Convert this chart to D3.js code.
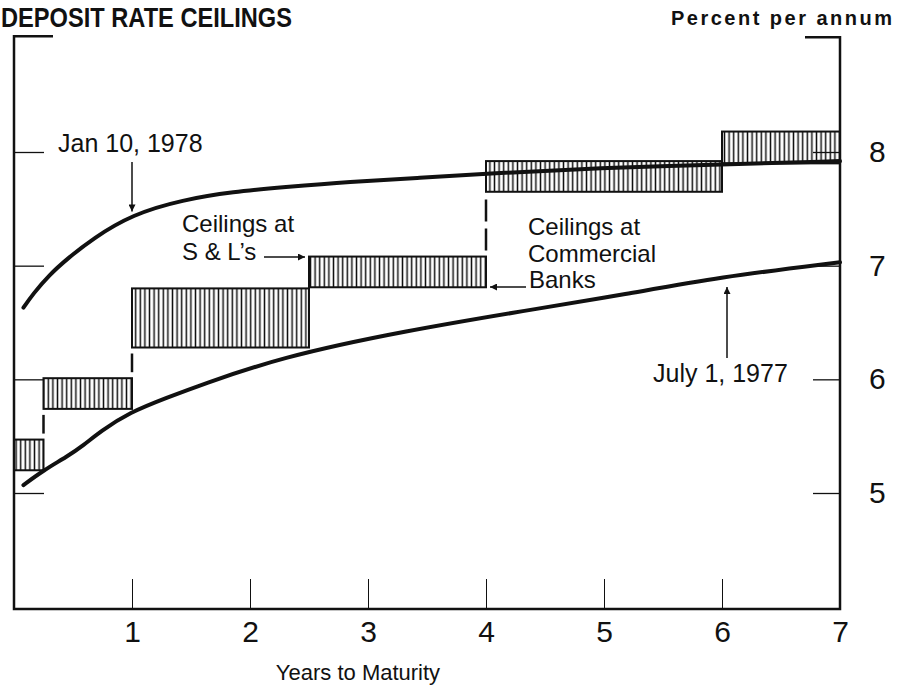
<!DOCTYPE html>
<html>
<head>
<meta charset="utf-8">
<script src="https://cdn.jsdelivr.net/npm/d3@7"></script>
<style>
  html, body { margin: 0; padding: 0; background: #fff; }
  svg { display: block; font-family: "Liberation Sans", Arial, Helvetica, sans-serif; }
  .tick text { font-family: "Liberation Sans", Arial, sans-serif; }
  .note { font-size: 25px; fill: #111; }
  .note.small { font-size: 24px; }
</style>
</head>
<body>
<svg id="chart" width="897" height="687"></svg>
<script>
/* ── Data ───────────────────────────────────────────────────────────────── */
// ceiling bands: bottom = commercial banks, top = S & L's
const bandStart = [0, 0.25, 1, 2.5, 4, 6];
const bandEnd   = [0.25, 1, 2.5, 4, 6, 7];
const bankRate  = [5.2, 5.74, 6.28, 6.81, 7.65, 7.9];
const slRate    = [5.47, 6.01, 6.8, 7.08, 7.92, 8.18];

// market yield curves
const jan78Years = [0.08, 0.16, 0.3, 0.45, 0.67, 1, 1.43, 1.86, 2.28, 2.85, 3.42, 3.97, 4.97, 6, 7];
const jan78Rates = [6.63, 6.75, 6.92, 7.06, 7.24, 7.45, 7.58, 7.65, 7.69, 7.74, 7.77, 7.81, 7.86, 7.89, 7.92];
const jul77Years = [0.08, 0.25, 0.45, 0.59, 0.73, 0.98, 1.3, 1.58, 2.25, 3.27, 4.54, 5.14, 5.98, 7];
const jul77Rates = [5.07, 5.2, 5.32, 5.42, 5.54, 5.71, 5.84, 5.95, 6.19, 6.42, 6.64, 6.74, 6.9, 7.03];

const xTicks = [1, 2, 3, 4, 5, 6, 7];
const yTicks = [5, 6, 7, 8];

/* ── Scales ─────────────────────────────────────────────────────────────── */
const x = d3.scaleLinear().domain([0, 7]).range([14, 840]);
const y = d3.scaleLinear().domain([5, 8]).range([493, 152]);
const BOTTOM = 609, TOP = y(9);

const svg = d3.select('#chart');

const defs = svg.append('defs');
const pat = defs.append('pattern').attr('id', 'hatch')
  .attr('patternUnits', 'userSpaceOnUse').attr('width', 4.6).attr('height', 10);
pat.append('rect').attr('width', 4.6).attr('height', 10).attr('fill', '#fff');
pat.append('line').attr('x1', 2.3).attr('x2', 2.3).attr('y1', 0).attr('y2', 10)
  .attr('stroke', '#111').attr('stroke-width', 1.5);

defs.append('marker').attr('id', 'arrow')
  .attr('viewBox', '0 0 10 10').attr('refX', 10).attr('refY', 5)
  .attr('markerWidth', 11).attr('markerHeight', 7).attr('markerUnits', 'userSpaceOnUse')
  .attr('orient', 'auto')
  .append('path').attr('d', 'M0,0 L10,5 L0,10 Z').attr('fill', '#111');

/* ── Title ──────────────────────────────────────────────────────────────── */
svg.append('text').attr('x', 1).attr('y', 27)
  .attr('font-size', 28).attr('font-weight', 'bold').attr('fill', '#111')
  .attr('textLength', 291).attr('lengthAdjust', 'spacingAndGlyphs')
  .text('DEPOSIT RATE CEILINGS');
svg.append('text').attr('x', 671).attr('y', 25)
  .attr('font-size', 20).attr('font-weight', 'bold').attr('fill', '#111')
  .attr('textLength', 221).attr('lengthAdjust', 'spacing')
  .text('Percent per annum');

/* ── Ceiling bands ──────────────────────────────────────────────────────── */
const bands = bandStart.map((s, i) => ({ s, e: bandEnd[i], lo: bankRate[i], hi: slRate[i] }));

svg.append('g').selectAll('rect').data(bands).join('rect')
  .attr('x', d => x(d.s)).attr('width', d => x(d.e) - x(d.s))
  .attr('y', d => y(d.hi)).attr('height', d => y(d.lo) - y(d.hi))
  .attr('fill', 'url(#hatch)').attr('stroke', '#111').attr('stroke-width', 2);

// dashed connectors between steps
const steps = bands.slice(1).map((b, i) => ({ at: b.s, from: bands[i].hi, to: b.lo }))
  .filter(d => d.to > d.from + 0.05);
svg.append('g').selectAll('line').data(steps).join('line')
  .attr('x1', d => x(d.at)).attr('x2', d => x(d.at))
  .attr('y1', d => y(d.from) - 6).attr('y2', d => y(d.to) + 6)
  .attr('stroke', '#111').attr('stroke-width', 2.5).attr('stroke-dasharray', '22,7');

/* ── Yield curves ───────────────────────────────────────────────────────── */
const line = d3.line().x(d => x(d[0])).y(d => y(d[1])).curve(d3.curveBasis);
[[jan78Years, jan78Rates], [jul77Years, jul77Rates]].forEach(([ys, rs]) => {
  svg.append('path').attr('d', line(ys.map((v, i) => [v, rs[i]])))
    .attr('fill', 'none').attr('stroke', '#111').attr('stroke-width', 4)
    .attr('stroke-linecap', 'round');
});

/* ── Axes / frame ───────────────────────────────────────────────────────── */
const xAxis = svg.append('g').attr('transform', `translate(0,${BOTTOM})`)
  .call(d3.axisBottom(x).tickValues(xTicks).tickFormat(d3.format('d'))
    .tickSizeInner(-30).tickSizeOuter(0).tickPadding(12));
xAxis.select('.domain').remove();
xAxis.selectAll('.tick line').attr('stroke', '#111').attr('stroke-width', 1)
  .filter(d => d === 7).remove();
xAxis.selectAll('.tick text').attr('font-size', 30).attr('fill', '#111');

const yLeft = svg.append('g').attr('transform', `translate(${x(0)},0)`)
  .call(d3.axisLeft(y).tickValues(yTicks).tickSizeInner(-30).tickSizeOuter(0).tickFormat(''));
yLeft.select('.domain').remove();
yLeft.selectAll('.tick line').attr('stroke', '#111').attr('stroke-width', 1.3);

const yRight = svg.append('g').attr('transform', `translate(${x(7)},0)`)
  .call(d3.axisRight(y).tickValues(yTicks).tickFormat(d3.format('d'))
    .tickSizeInner(-27).tickSizeOuter(0).tickPadding(29));
yRight.select('.domain').remove();
yRight.selectAll('.tick line').attr('stroke', '#111').attr('stroke-width', 1.3);
yRight.selectAll('.tick text').attr('font-size', 30).attr('fill', '#111');

const frame = svg.append('g').attr('stroke', '#111').attr('fill', 'none').attr('stroke-width', 2.5);
frame.append('path').attr('d', `M${x(0) + 39},${TOP - 2} H${x(0)} V${BOTTOM} H${x(7)} V${TOP - 1} H${x(7) - 35}`);

svg.append('text').attr('x', 358).attr('y', 680).attr('text-anchor', 'middle')
  .attr('font-size', 22).attr('fill', '#111').text('Years to Maturity');

/* ── Annotations ────────────────────────────────────────────────────────── */
const ann = svg.append('g');
ann.append('text').attr('class', 'note').attr('x', 58).attr('y', 152).text('Jan 10, 1978');
ann.append('line').attr('x1', x(1)).attr('x2', x(1)).attr('y1', 162).attr('y2', y(7.45) - 3)
  .attr('stroke', '#111').attr('stroke-width', 1.5).attr('marker-end', 'url(#arrow)');

ann.append('text').attr('class', 'note small').attr('x', 182).attr('y', 232).text('Ceilings at');
ann.append('text').attr('class', 'note small').attr('x', 182).attr('y', 260).text('S & L\u2019s');
ann.append('line').attr('x1', 264).attr('x2', x(2.5) - 4).attr('y1', 257).attr('y2', 257)
  .attr('stroke', '#111').attr('stroke-width', 1.5).attr('marker-end', 'url(#arrow)');

ann.append('text').attr('class', 'note small').attr('x', 528).attr('y', 235).text('Ceilings at');
ann.append('text').attr('class', 'note small').attr('x', 528).attr('y', 262).text('Commercial');
ann.append('text').attr('class', 'note small').attr('x', 529).attr('y', 288).text('Banks');
ann.append('line').attr('x1', 526).attr('x2', x(4) + 4).attr('y1', 287).attr('y2', 287)
  .attr('stroke', '#111').attr('stroke-width', 1.5).attr('marker-end', 'url(#arrow)');

ann.append('text').attr('class', 'note').attr('x', 653).attr('y', 382).text('July 1, 1977');
ann.append('line').attr('x1', 727).attr('x2', 727).attr('y1', 358).attr('y2', 287)
  .attr('stroke', '#111').attr('stroke-width', 1.5).attr('marker-end', 'url(#arrow)');
</script>
</body>
</html>
